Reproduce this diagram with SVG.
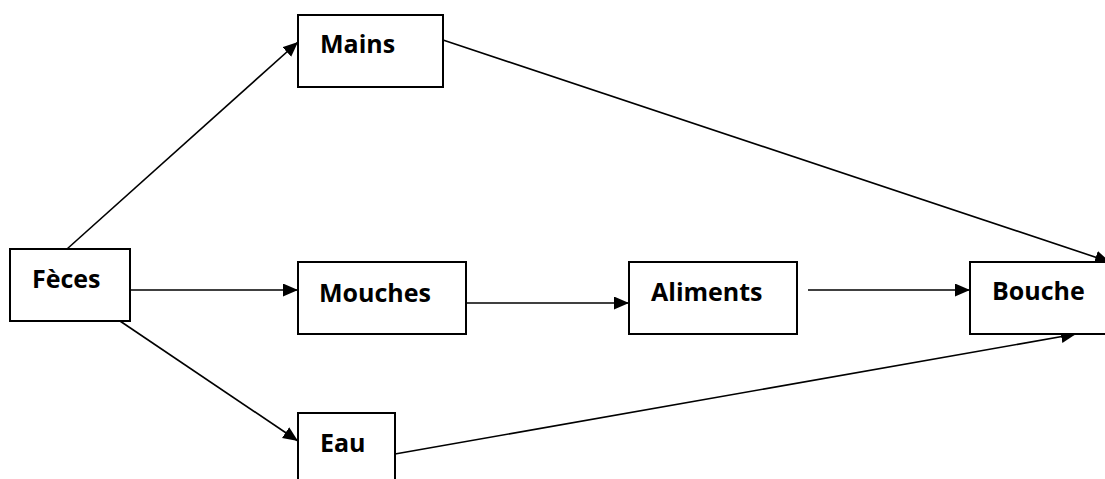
<svg xmlns="http://www.w3.org/2000/svg" width="1105" height="479" viewBox="0 0 1105 479">
<style>
.box{fill:#fff;stroke:#000;stroke-width:2}
.lbl{font-family:"Open Sans","Liberation Sans",sans-serif;font-weight:bold;font-size:25px;fill:#000}
.ln{stroke:#000;stroke-width:1.6;fill:none;marker-end:url(#ah)}
</style>
<defs>
<marker id="ah" markerUnits="userSpaceOnUse" markerWidth="16" markerHeight="14" refX="15" refY="6.5" orient="auto" viewBox="0 0 16 14">
<path d="M0,0 L15,6.5 L0,13 z" fill="#000"/>
</marker>
</defs>
<rect width="1105" height="479" fill="#fff"/>
<g id="connectors">
<line class="ln" x1="67" y1="249" x2="298" y2="42"/>
<line class="ln" x1="131" y1="290" x2="298" y2="290"/>
<line class="ln" x1="120" y1="321" x2="298" y2="441"/>
<line class="ln" x1="467" y1="303" x2="629" y2="303"/>
<line class="ln" x1="808" y1="290" x2="970" y2="290"/>
<line class="ln" x1="443" y1="40" x2="1110" y2="262"/>
<line class="ln" x1="395" y1="454" x2="1076" y2="334"/>
</g>
<g id="feces"><rect class="box" x="10" y="249" width="120" height="72"/><text class="lbl" x="32" y="288">Fèces</text></g>
<g id="mains"><rect class="box" x="298" y="15" width="145" height="72"/><text class="lbl" x="320" y="53">Mains</text></g>
<g id="mouches"><rect class="box" x="298" y="262" width="168" height="72"/><text class="lbl" x="319" y="302">Mouches</text></g>
<g id="eau"><rect class="box" x="298" y="413" width="97" height="80"/><text class="lbl" x="320" y="452">Eau</text></g>
<g id="aliments"><rect class="box" x="629" y="262" width="168" height="72"/><text class="lbl" x="651" y="301">Aliments</text></g>
<g id="bouche"><rect class="box" x="970" y="262" width="150" height="72"/><text class="lbl" x="992" y="300">Bouche</text></g>
</svg>
